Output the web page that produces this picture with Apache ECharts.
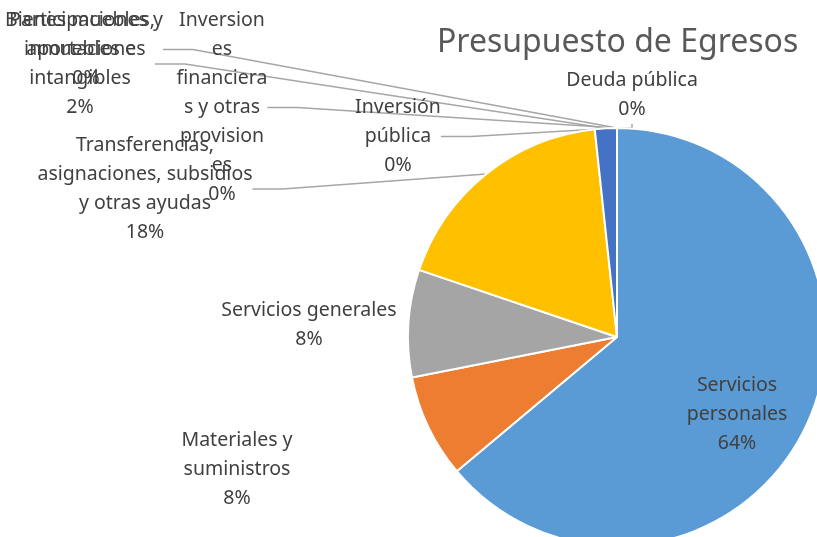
<!DOCTYPE html>
<html>
<head>
<meta charset="utf-8">
<script src="https://cdn.jsdelivr.net/npm/echarts@6/dist/echarts.min.js"></script>
<style>
  html, body { margin: 0; padding: 0; background: #fff; }
  #main { width: 817px; height: 537px; }
</style>
</head>
<body>
<div id="main"></div>
<script>
// categorias del presupuesto (en orden de las rebanadas)
var categorias = [
    'Servicios personales',
    'Materiales y suministros',
    'Servicios generales',
    'Transferencias, asignaciones, subsidios y otras ayudas',
    'Bienes muebles, inmuebles e intangibles',
    'Inversión pública',
    'Inversiones financieras y otras provisiones',
    'Participaciones y aportaciones',
    'Deuda pública'
];
// porcentaje de cada rubro
var valores = [63.9, 8.0, 8.3, 18.1, 1.7, 0, 0, 0, 0];
// textos de las etiquetas partidos como en excel
var etiquetas = [
    'Servicios\npersonales',
    'Materiales y\nsuministros',
    'Servicios generales',
    'Transferencias,\nasignaciones, subsidios\ny otras ayudas',
    'Bienes muebles,\ninmuebles e\nintangibles',
    'Inversión\npública',
    'Inversion\nes\nfinanciera\ns y otras\nprovision\nes',
    'Participaciones y\naportaciones',
    'Deuda pública'
];
var colores = ['#5B9BD5', '#ED7D31', '#A5A5A5', '#FFC000', '#4472C4', '#70AD47', '#264478', '#9E480E', '#636363'];

// posicion de cada etiqueta (centro x, borde superior y)
var posEtiquetas = [
    [737, 371], [237, 426], [309, 296], [145, 131], [80, 6],
    [398, 93], [222, 6], [86, 6], [632, 66]
];
var conLinea = [false, false, false, true, true, true, true, true, true];

var myChart = echarts.init(document.getElementById('main'));

var datos = [];
for (var i = 0; i < categorias.length; i++) {
    datos.push({
        name: categorias[i],
        value: valores[i],
        itemStyle: { color: colores[i] },
        labelLine: { show: conLinea[i] }
    });
}

var option = {
    animation: false,
    title: {
        text: 'Presupuesto de Egresos',
        left: 432,
        top: 22,
        textStyle: {
            fontFamily: 'Noto Sans',
            fontSize: 32,
            fontWeight: 'normal',
            color: '#595959'
        }
    },
    series: [{
        type: 'pie',
        center: [617, 337],
        radius: 209,
        startAngle: 90,
        clockwise: true,
        avoidLabelOverlap: false,
        stillShowZeroSum: true,
        itemStyle: { borderColor: '#fff', borderWidth: 2 },
        label: {
            show: true,
            fontFamily: 'Noto Sans',
            fontSize: 19.5,
            lineHeight: 29,
            color: '#404040',
            align: 'center',
            formatter: function (p) {
                return etiquetas[p.dataIndex] + '\n' + Math.round(p.value) + '%';
            }
        },
        labelLine: {
            show: true,
            lineStyle: { color: '#A6A6A6', width: 1.5 }
        },
        labelLayout: function (params) {
            var pos = posEtiquetas[params.dataIndex];
            return {
                x: pos[0],
                y: pos[1],
                align: 'center',
                verticalAlign: 'top'
            };
        },
        data: datos
    }]
};
myChart.setOption(option);
</script>
</body>
</html>
